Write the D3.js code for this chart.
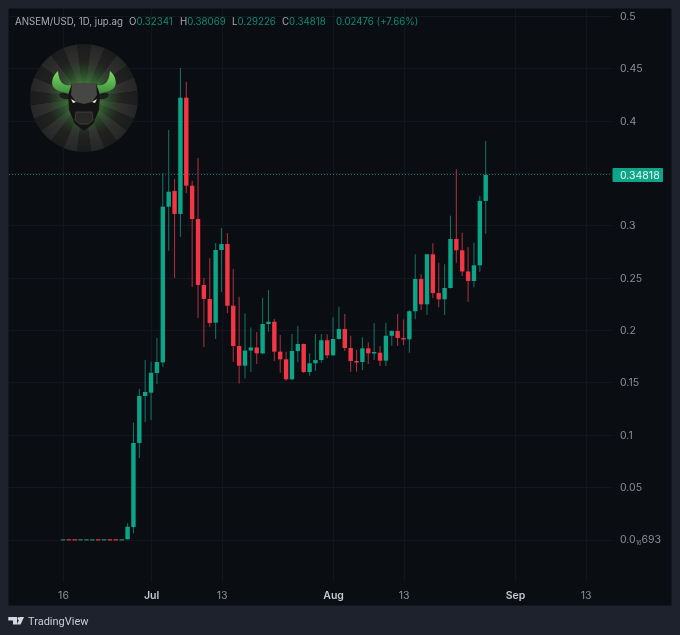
<!DOCTYPE html>
<html><head><meta charset="utf-8">
<script src="https://cdn.jsdelivr.net/npm/d3@7"></script>
<style>html,body{margin:0;padding:0;background:#1e222d;overflow:hidden}svg{display:block;filter:blur(0.35px)}text{font-family:Inter,Roboto,sans-serif}</style>
</head><body><svg id="c" width="680" height="635"></svg>
<script>
// Daily candles, one entry per day beginning 16 June
const startDate = "2024-06-16";
const opens = [.0002,.0004,.0004,.0002,.0002,.0002,.0004,.0002,.0004,.0004,.0002,
.0002,.0119,.0922,.1371,.1402,.1590,.1692,.3179,.3329,.3109,.4220,.3379,.3061,.2431,.2297,.2071,.2765,.2822,.2233,.1848,.1660,.1805,.1834,.1778,.2058,.2080,.1794,.1721,.1530,.1800,.1867,.1600,.1683,.1714,.1903,
.1759,.1915,.2011,.1829,.1705,.1695,.1826,.1778,.1784,.1708,.1946,.1991,.1925,.1912,.2180,.2488,.2246,.2724,.2354,.2294,.2402,.2870,.2762,.2560,.2469,.2619,.32341];
const highs = [.0004,.0004,.0004,.0004,.0004,.0004,.0004,.0004,.0004,.0004,.0004,
.0155,.1116,.1437,.1714,.1698,.1927,.3500,.3911,.3443,.4503,.4372,.3427,.3644,.2498,.2689,.2832,.2975,.2927,.2584,.2319,.2159,.2025,.1982,.2307,.2383,.2106,.1953,.1794,.1963,.2042,.1872,.1778,.1963,.1963,.1960,
.2122,.2223,.2154,.1946,.1810,.1931,.1883,.2065,.1848,.2071,.1995,.2154,.2103,.2192,.2724,.2533,.2727,.2829,.2644,.2628,.3093,.3536,.2930,.2791,.2835,.3284,.38069];
const lows = [.0002,.0002,.0002,.0002,.0002,.0002,.0002,.0002,.0002,.0002,.0002,
0,.0059,.0778,.1122,.1141,.1485,.1648,.2758,.2498,.2892,.3309,.2412,.2116,.1839,.2030,.1915,.2364,.2163,.1698,.1490,.1538,.1600,.1676,.1772,.1985,.1705,.1593,.1517,.1523,.1692,.1590,.1564,.1612,.1689,.1731,
.1757,.1910,.1800,.1603,.1603,.1619,.1676,.1714,.1657,.1657,.1851,.1848,.1858,.1784,.2103,.2192,.2144,.2304,.2218,.2144,.2397,.2644,.2517,.2271,.2409,.2558,.29226];
const closes = [.0004,.0002,.0002,.0004,.0004,.0004,.0002,.0004,.0002,.0002,.0004,
.0122,.0922,.1371,.1409,.1593,.1695,.3179,.3322,.3109,.4220,.3379,.3061,.2431,.2297,.2068,.2765,.2822,.2233,.1848,.1660,.1805,.1834,.1778,.2058,.2080,.1794,.1721,.1530,.1800,.1867,.1600,.1683,.1714,.1903,.1759,
.1915,.2011,.1829,.1705,.1695,.1826,.1778,.1791,.1708,.1946,.1991,.1925,.1912,.2180,.2488,.2246,.2724,.2354,.2294,.2402,.2870,.2762,.2560,.2469,.2619,.32341,.34818];
const priceTicks = [0,.05,.1,.15,.2,.25,.3,.35,.4,.45,.5];
const priceLabels = ["0.0","0.05","0.1","0.15","0.2","0.25","0.3","","0.4","0.45","0.5"];
const zeroLabelParts = ["0.0","16","693"];
const dateTicks = ["2024-06-16","2024-07-01","2024-07-13","2024-08-01","2024-08-13","2024-09-01","2024-09-13"];
const dateLabels = ["16","Jul","13","Aug","13","Sep","13"];
const monthLabels = ["Jul","Aug","Sep"];
const title = "ANSEM/USD, 1D, jup.ag";
const ohlcKeys = ["O","H","L","C"];
const ohlcVals = ["0.32341","0.38069","0.29226","0.34818"];
const change = "0.02476 (+7.66%)";
const lastPrice = 0.34818;

const GREEN="#0ca588", RED="#f23645", GREENW="#0f6f5f", REDW="#a32f3d";
const svg=d3.select("#c");
svg.append("rect").attr("width",680).attr("height",635).attr("fill","#1e222d");
svg.append("rect").attr("x",8.5).attr("y",8.5).attr("width",663).attr("height",597).attr("fill","#0a0d12");

const parse=d3.utcParse("%Y-%m-%d");
const x=d3.scaleUtc().domain([parse("2024-06-16"),parse("2024-09-13")]).range([63,585.5]);
const y=d3.scaleLinear().domain([0,.5]).range([539.5,16]);
const days=opens.map((_,i)=>d3.utcDay.offset(parse(startDate),i));
const idx=d3.range(opens.length);

// grid
const gridCol="#12161e";
const g=svg.append("g");
g.selectAll(".h").data(priceTicks).join("line").attr("x1",9).attr("x2",612)
 .attr("y1",d=>Math.round(y(d))+.5).attr("y2",d=>Math.round(y(d))+.5).attr("stroke",gridCol);
g.selectAll(".v").data(dateTicks).join("line").attr("y1",9).attr("y2",582)
 .attr("x1",d=>Math.round(x(parse(d)))+.5).attr("x2",d=>Math.round(x(parse(d)))+.5).attr("stroke",gridCol);

// axes
const yAxis=d3.axisRight(y).tickValues(priceTicks).tickSize(0).tickPadding(0)
 .tickFormat((d,i)=>priceLabels[i]);
const ya=svg.append("g").attr("transform","translate(620,0)").call(yAxis);
ya.select(".domain").remove();
ya.selectAll("text").attr("fill","#8c8f98").attr("font-size",10.5).attr("x",0);
ya.selectAll(".tick").filter(d=>d===0).select("text").text(null).call(t=>{
  t.append("tspan").text(zeroLabelParts[0]);
  t.append("tspan").text(zeroLabelParts[1]).attr("font-size",5.5).attr("dy",2);
  t.append("tspan").text(zeroLabelParts[2]).attr("dy",-2);
});
ya.selectAll(".tick").filter(d=>d===.35).remove();

const xAxis=d3.axisBottom(x).tickValues(dateTicks.map(parse)).tickSize(0).tickPadding(0)
 .tickFormat((d,i)=>dateLabels[i]);
const xa=svg.append("g").attr("transform","translate(0,592)").call(xAxis);
xa.select(".domain").remove();
xa.selectAll("text").attr("font-size",10.5).attr("y",0)
 .attr("fill",(d,i)=>monthLabels.includes(dateLabels[i])?"#c4c7cf":"#8c8f98")
 .attr("font-weight",(d,i)=>monthLabels.includes(dateLabels[i])?600:400);

// last price line
svg.append("line").attr("x1",9).attr("x2",612).attr("y1",Math.floor(y(lastPrice))+.5).attr("y2",Math.floor(y(lastPrice))+.5)
 .attr("stroke","#1d6f68").attr("stroke-dasharray","1 2");

// logo
const logo=svg.append("g").attr("transform","translate(84,98)");
const defs=svg.append("defs");
const glow=defs.append("radialGradient").attr("id","glow");
glow.append("stop").attr("offset","0%").attr("stop-color","#62c455").attr("stop-opacity",.9);
glow.append("stop").attr("offset","50%").attr("stop-color","#3f8f3c").attr("stop-opacity",.55);
glow.append("stop").attr("offset","100%").attr("stop-color","#2f6a30").attr("stop-opacity",0);
const shade=defs.append("radialGradient").attr("id","shade");
shade.append("stop").attr("offset","70%").attr("stop-color","#0a0d12").attr("stop-opacity",0);
shade.append("stop").attr("offset","100%").attr("stop-color","#0a0d12").attr("stop-opacity",.3);
const hornGrad=defs.append("linearGradient").attr("id","horn").attr("x1",0).attr("y1",0).attr("x2",0).attr("y2",1);
hornGrad.append("stop").attr("offset","0%").attr("stop-color","#7ddc66");
hornGrad.append("stop").attr("offset","100%").attr("stop-color","#3f8f3d");
const wedgeN=24, arc=d3.arc().innerRadius(0).outerRadius(54);
logo.selectAll("path.w").data(d3.range(wedgeN)).join("path").attr("class","w")
 .attr("d",i=>arc({startAngle:(i-.5)*2*Math.PI/wedgeN,endAngle:(i+.5)*2*Math.PI/wedgeN}))
 .attr("fill",i=>i%2?"#30302e":"#212220");
logo.append("circle").attr("r",54).attr("fill","url(#shade)");
logo.append("circle").attr("r",38).attr("fill","url(#glow)");
const horn="M-12,-13 C-18,-12 -25,-13 -26,-27 C-31,-23 -34,-15 -30,-10 C-26,-6 -18,-5 -12,-5 Z";
logo.append("path").attr("d",horn).attr("fill","url(#horn)");
logo.append("path").attr("d",horn).attr("fill","url(#horn)").attr("transform","scale(-1,1)");
const ear="M-15,-3 C-19,-6 -24,-6 -25,-3 C-23,1 -19,2 -15,1 Z";
logo.append("path").attr("d",ear).attr("fill","#1d1d1c");
logo.append("path").attr("d",ear).attr("fill","#1d1d1c").attr("transform","scale(-1,1)");
logo.append("path").attr("d","M-12,-15 L12,-15 L16,-3 L15,12 L9,26 L0,33 L-9,26 L-15,12 L-16,-3 Z").attr("fill","#131413");
logo.append("path").attr("d","M-12,-15 L12,-15 L13,-3 L8,4 L0,6 L-8,4 L-13,-3 Z").attr("fill","#464645");
logo.append("path").attr("d","M-8,14 L8,14 L9,22 L4,26 L-4,26 L-9,22 Z").attr("fill","#272726").attr("stroke","#4a4a48").attr("stroke-width",.7);
logo.append("path").attr("d","M-13,1 L-8,4 L-11,5 Z").attr("fill","#dff3c5");
logo.append("path").attr("d","M13,1 L8,4 L11,5 Z").attr("fill","#dff3c5");

// candles
const candles=svg.append("g");
const col=i=>closes[i]>=opens[i];
candles.selectAll(".wick").data(idx.filter(i=>i>=11)).join("line").attr("class","wick")
 .attr("x1",i=>x(days[i])).attr("x2",i=>x(days[i]))
 .attr("y1",i=>y(highs[i])).attr("y2",i=>y(lows[i]))
 .attr("stroke",i=>col(i)?GREENW:REDW).attr("stroke-width",1.1);
candles.selectAll(".body").data(idx).join("rect").attr("class","body")
 .attr("x",i=>x(days[i])-2.2).attr("width",4.4)
 .attr("y",i=>y(Math.max(opens[i],closes[i])))
 .attr("height",i=>Math.max(1.5,Math.abs(y(opens[i])-y(closes[i]))))
 .attr("fill",i=>i<11?(col(i)?"#2a6f63":"#c2323f"):(col(i)?GREEN:RED));

// last price tag
svg.append("rect").attr("x",612.5).attr("y",168).attr("width",50.5).attr("height",14).attr("rx",1).attr("fill","#0ca588");
svg.append("text").attr("x",620).attr("y",178.5).attr("font-size",10.5).attr("fill","#e8f5f1").text(ohlcVals[3]);

// header
const hy=24.5;
const H=svg.append("g").attr("font-size",9.7);
H.append("text").attr("x",15).attr("y",hy).attr("fill","#a8abb3").text(title);
const hx=[129,180,232,282];
ohlcKeys.forEach((k,i)=>{
  const t=H.append("text").attr("x",hx[i]).attr("y",hy);
  t.append("tspan").attr("fill","#a8abb3").text(k);
  t.append("tspan").attr("fill","#0d8a74").text(ohlcVals[i]);
});
H.append("text").attr("x",336).attr("y",hy).attr("fill","#0d8a74").text(change);

// brand
const b=svg.append("g").attr("fill","#d6d8de");
b.append("path").attr("d","M8.3,617 H17 V624.5 H13 V620.5 H8.3 Z");
b.append("circle").attr("cx",19).attr("cy",618.6).attr("r",1.5);
b.append("path").attr("d","M20.3,617 H24 L20.6,624.5 H16.8 Z");
svg.append("text").attr("x",28).attr("y",625).attr("font-size",11).attr("style","font-family:Roboto").attr("fill","#c9ccd3").text("TradingView");
</script></body></html>
